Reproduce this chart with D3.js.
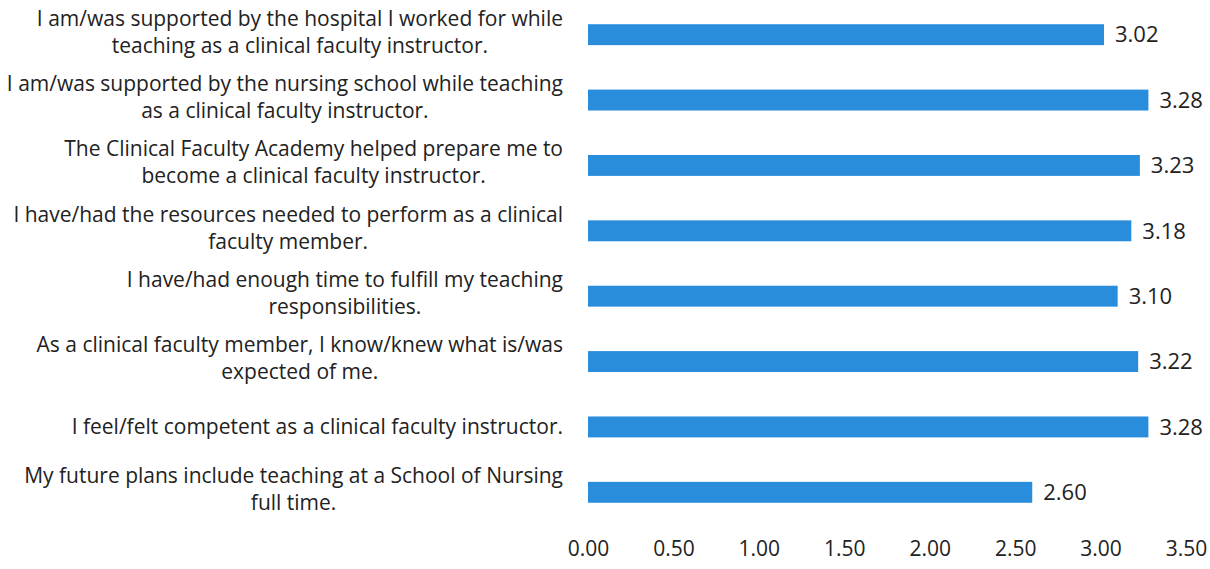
<!DOCTYPE html>
<html>
<head>
<meta charset="utf-8">
<script src="https://cdn.jsdelivr.net/npm/d3@7"></script>
<style>
  body { margin: 0; background: #fff; }
  text { font-family: "Open Sans", "Noto Sans", sans-serif; fill: #222; }
</style>
</head>
<body>
<svg id="chart" width="1210" height="569"></svg>
<script>
// survey statements, top to bottom (each split into the printed lines)
const statements = [
  ["I am/was supported by the hospital I worked for while", "teaching as a clinical faculty instructor."],
  ["I am/was supported by the nursing school while teaching", "as a clinical faculty instructor."],
  ["The Clinical Faculty Academy helped prepare me to", "become a clinical faculty instructor."],
  ["I have/had the resources needed to perform as a clinical", "faculty member."],
  ["I have/had enough time to fulfill my teaching", "responsibilities."],
  ["As a clinical faculty member, I know/knew what is/was", "expected of me."],
  ["I feel/felt competent as a clinical faculty instructor."],
  ["My future plans include teaching at a School of Nursing", "full time."]
];
const meanScores = [3.02, 3.28, 3.23, 3.18, 3.10, 3.22, 3.28, 2.60];
const xTicks = [0, 0.5, 1, 1.5, 2, 2.5, 3, 3.5];

const svg = d3.select("#chart");
const barColor = "#2a8ddc";
const labelRight = 563;

const x = d3.scaleLinear().domain([0, 3.5]).range([588, 1186]);
const y = d3.scaleBand()
  .domain(d3.range(statements.length))
  .range([2, 525])
  .paddingInner(0.68)
  .paddingOuter(0.34);

const rows = svg.selectAll("g.row")
  .data(meanScores)
  .enter()
  .append("g")
  .attr("class", "row");

rows.append("rect")
  .attr("x", x(0))
  .attr("y", (d, i) => y(i))
  .attr("width", d => x(d) - x(0))
  .attr("height", y.bandwidth())
  .attr("fill", barColor);

rows.append("text")
  .attr("x", d => x(d) + 11)
  .attr("y", (d, i) => y(i) + y.bandwidth() / 2)
  .attr("dy", "0.35em")
  .style("font-size", "22px")
  .text(d => d.toFixed(2));

// category labels: block right-aligned, lines centered inside the block
statements.forEach(function(lines, i){
  let g = svg.append("g");
  let cy = y(i) + y.bandwidth() / 2;
  let lineH = 27;
  let top = lines.length == 1 ? cy : cy - 3 - lineH / 2;
  let texts = g.selectAll("text")
    .data(lines)
    .enter()
    .append("text")
    .attr("y", (d, j) => top + j * lineH)
    .attr("dy", "0.35em")
    .attr("text-anchor", "middle")
    .style("font-size", "21px")
    .text(d => d);
  let maxW = 0;
  texts.each(function(){
    maxW = Math.max(maxW, this.getComputedTextLength());
  });
  texts.attr("x", labelRight - maxW / 2);
});

const xAxis = d3.axisBottom(x)
  .tickValues(xTicks)
  .tickFormat(d3.format(".2f"))
  .tickSize(0)
  .tickPadding(0);

const axisG = svg.append("g")
  .attr("transform", "translate(0,541)")
  .call(xAxis);
axisG.select(".domain").remove();
axisG.selectAll("text")
  .style("font-size", "21px")
  .style("font-family", "'Open Sans', 'Noto Sans', sans-serif")
  .attr("fill", "#222");
</script>
</body>
</html>
